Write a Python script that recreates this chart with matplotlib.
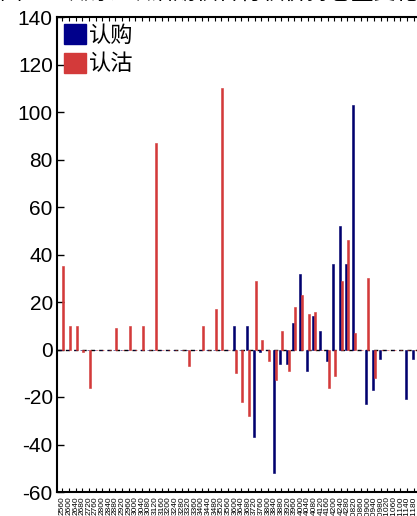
import matplotlib
matplotlib.use("Agg")
import matplotlib.pyplot as plt
from matplotlib.patches import Rectangle
import numpy as np

plt.rcParams['font.family'] = ['Noto Sans CJK SC', 'DejaVu Sans']

# strike labels (illegible in reference; approximated)
strikes = [str(2560 + 40 * i) for i in range(44)] + [str(10820 + 40 * i) for i in range(10)]

call_vals = [0] * 54
put_vals = [0] * 54
call_nonzero = {26: 10, 28: 10, 29: -37, 30: -1, 32: -52, 33: -6, 34: -6, 35: 11,
                36: 32, 37: -9, 38: 14, 39: 8, 40: -5, 41: 36, 42: 52, 43: 36,
                44: 103, 46: -23, 47: -17, 48: -4, 52: -21, 53: -4}
put_nonzero = {0: 35, 1: 10, 2: 10, 3: -1, 4: -16, 8: 9, 10: 10, 12: 10, 14: 87,
               19: -7, 21: 10, 23: 17, 24: 110, 26: -10, 27: -22, 28: -28, 29: 29,
               30: 4, 31: -5, 32: -13, 33: 8, 34: -9, 35: 18, 36: 23, 37: 15,
               38: 16, 40: -16, 41: -11, 42: 29, 43: 46, 44: 7, 46: 30, 47: -12}
for k, v in call_nonzero.items():
    call_vals[k] = v
for k, v in put_nonzero.items():
    put_vals[k] = v

series_names = ['认购', '认沽']
navy = '#00006E'
red = '#D33A3A'

fig = plt.figure(figsize=(4.17, 5.16), dpi=100)
ax = fig.add_axes([57 / 417, 24 / 516, 366.7 / 417, (492 - 17) / 516])

x = np.arange(len(strikes))
w = 0.3
ax.bar(x - 0.15, call_vals, width=w, color=navy, edgecolor=navy, linewidth=0.4, zorder=3)
ax.bar(x + 0.15, put_vals, width=w, color=red, edgecolor=red, linewidth=0.4, zorder=3)
ax.axhline(0, color='black', linestyle=(0, (3, 3)), linewidth=1.0, zorder=2)

ax.set_xlim(-0.81, 54.5)
ax.set_ylim(-60, 140)
ax.set_yticks(np.arange(-60, 141, 20))
ax.set_yticklabels([str(v) for v in range(-60, 141, 20)], fontsize=15,
                   family=['Liberation Sans', 'DejaVu Sans'])
ax.set_xticks(x)
ax.set_xticklabels(strikes, rotation=90, fontsize=6, family=['Liberation Sans', 'DejaVu Sans'])
ax.tick_params(axis='y', direction='in', length=5, width=1, pad=3, right=False)
ax.tick_params(axis='x', direction='in', length=3, width=0.8, top=True, pad=3)
for s in ['left', 'top', 'bottom']:
    ax.spines[s].set_linewidth(1.5)
ax.spines['right'].set_visible(False)

handles = [Rectangle((0, 0), 1, 1, color='#00008B'), Rectangle((0, 0), 1, 1, color=red)]
ax.legend(handles, series_names, loc='upper left', frameon=False, fontsize=16,
          handlelength=1.0, handleheight=1.0, handletextpad=0.15, labelspacing=0.25,
          borderaxespad=0.2, borderpad=0.1)

fig.text(0.0, 1 - 4 / 516, '图 1：认购、认沽期权各行权价持仓量变化情况（张）', fontsize=16,
         va='bottom', ha='left')

fig.savefig('out.png', dpi=100)
